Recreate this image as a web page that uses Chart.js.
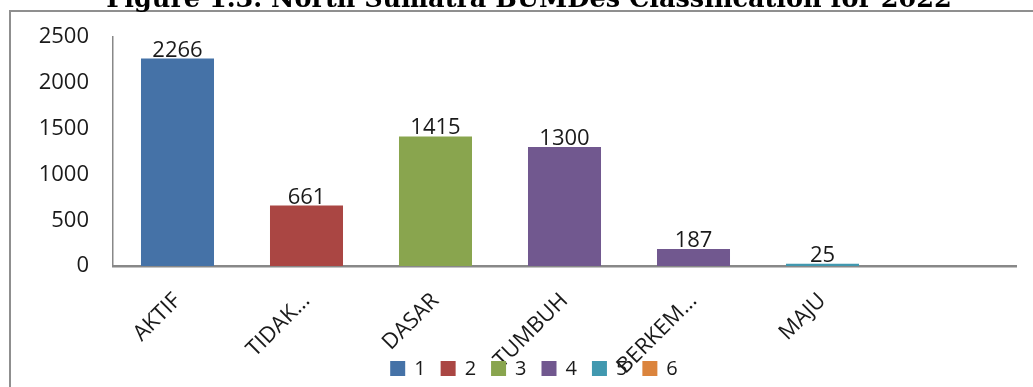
<!DOCTYPE html>
<html>
<head>
<meta charset="utf-8">
<script src="https://cdn.jsdelivr.net/npm/chart.js@4.4.1/dist/chart.umd.min.js"></script>
<style>
  html, body { margin: 0; padding: 0; background: #ffffff; overflow: hidden; }
  #wrap { position: relative; width: 1033px; height: 387px; overflow: hidden; background: #fff; }
  #frame { position: absolute; left: 9px; top: 10px; width: 1100px; height: 500px;
           border-left: 2px solid #8f8f8f; border-top: 2px solid #8f8f8f; }
  canvas { position: absolute; left: 0; top: 0; }
  .preload { position: absolute; left: -9999px; top: 0; }
</style>
</head>
<body>
<div class="preload" style="font-family:'Open Sans'">0123456789 AKTIF</div>
<div class="preload" style="font-family:'DejaVu Serif';font-weight:bold">Figure</div>
<div id="wrap">
  <div id="frame"></div>
  <canvas id="c" width="1033" height="387"></canvas>
</div>
<script>
// ---- data ----
const titleText = 'Figure 1.3. North Sumatra BUMDes Classification for 2022';
const categories = ['AKTIF', 'TIDAK...', 'DASAR', 'TUMBUH', 'BERKEM...', 'MAJU', ''];
const values = [2266, 661, 1415, 1300, 187, 25, null];
const yTickValues = [0, 500, 1000, 1500, 2000, 2500];
const legendLabels = ['1', '2', '3', '4', '5', '6'];

// ---- styles ----
const legendColors = ['#4572A7', '#AA4643', '#89A54E', '#71588F', '#4198AF', '#DB843D'];
const barColors = ['#4572A7', '#AA4643', '#89A54E', '#71588F', '#71588F', '#4198AF', '#DB843D'];
const FONT = "'Open Sans', 'Noto Sans', sans-serif";

const titlePlugin = {
  id: 'cutTitle',
  beforeDraw(chart) {
    const ctx = chart.ctx;
    ctx.save();
    let size = 24;
    ctx.font = `bold ${size}px 'DejaVu Serif', serif`;
    const w = ctx.measureText(titleText).width;
    size = size * 846 / w;
    ctx.font = `bold ${size}px 'DejaVu Serif', serif`;
    ctx.fillStyle = '#000';
    ctx.textAlign = 'center';
    ctx.textBaseline = 'alphabetic';
    ctx.fillText(titleText, 529, 7);
    ctx.restore();
  }
};

const valueLabelPlugin = {
  id: 'valueLabels',
  afterDatasetsDraw(chart) {
    const ctx = chart.ctx;
    const meta = chart.getDatasetMeta(0);
    ctx.save();
    ctx.font = `22px ${FONT}`;
    ctx.fillStyle = '#1a1a1a';
    ctx.textAlign = 'center';
    ctx.textBaseline = 'alphabetic';
    meta.data.forEach((el, i) => {
      const v = values[i];
      if (v === null || v === undefined) return;
      ctx.fillText(String(v), el.x, el.y - 2);
    });
    ctx.restore();
  }
};

const legendPlugin = {
  id: 'customLegend',
  afterDraw(chart) {
    const ctx = chart.ctx;
    ctx.save();
    ctx.font = `20px ${FONT}`;
    ctx.textBaseline = 'middle';
    ctx.textAlign = 'left';
    const box = 15, gap = 9, spacing = 15;
    const widths = legendLabels.map(t => box + gap + ctx.measureText(t).width);
    const total = widths.reduce((a, b) => a + b, 0) + spacing * (legendLabels.length - 1);
    let x = 534 - total / 2;
    const cy = 368.5;
    legendLabels.forEach((t, i) => {
      ctx.fillStyle = legendColors[i];
      ctx.fillRect(x, cy - box / 2, box, box);
      ctx.fillStyle = '#1a1a1a';
      ctx.fillText(t, x + box + gap, cy + 1);
      x += widths[i] + spacing;
    });
    ctx.restore();
  }
};

function build() {
  new Chart(document.getElementById('c'), {
    type: 'bar',
    data: {
      labels: categories,
      datasets: [{
        data: values,
        backgroundColor: barColors,
        borderWidth: 0,
        categoryPercentage: 1.0,
        barPercentage: 0.566
      }]
    },
    options: {
      responsive: false,
      animation: false,
      devicePixelRatio: 1,
      layout: { padding: { top: 33, right: 17, left: 0, bottom: 0 } },
      plugins: {
        legend: { display: false },
        tooltip: { enabled: false },
        title: { display: false }
      },
      scales: {
        x: {
          z: 1,
          grid: { display: false, drawTicks: false },
          border: { display: true, color: '#888888', width: 2.5 },
          ticks: {
            color: '#1a1a1a',
            font: { family: FONT, size: 22 },
            minRotation: 45,
            maxRotation: 45,
            autoSkip: false,
            padding: 22
          },
          afterFit(scale) { scale.height = 121; }
        },
        y: {
          min: 0,
          max: 2500,
          afterBuildTicks(scale) { scale.ticks = yTickValues.map(v => ({ value: v })); },
          grid: { display: false, drawTicks: false },
          border: { display: true, color: '#888888', width: 1.5 },
          ticks: {
            color: '#1a1a1a',
            font: { family: FONT, size: 22 },
            padding: 24,
            callback: (v) => String(v)
          },
          afterFit(scale) { scale.width = 113; }
        }
      }
    },
    plugins: [titlePlugin, valueLabelPlugin, legendPlugin]
  });
}

Promise.all([
  document.fonts.load("22px 'Open Sans'"),
  document.fonts.load("bold 24px 'DejaVu Serif'")
]).then(build, build);
</script>
</body>
</html>
